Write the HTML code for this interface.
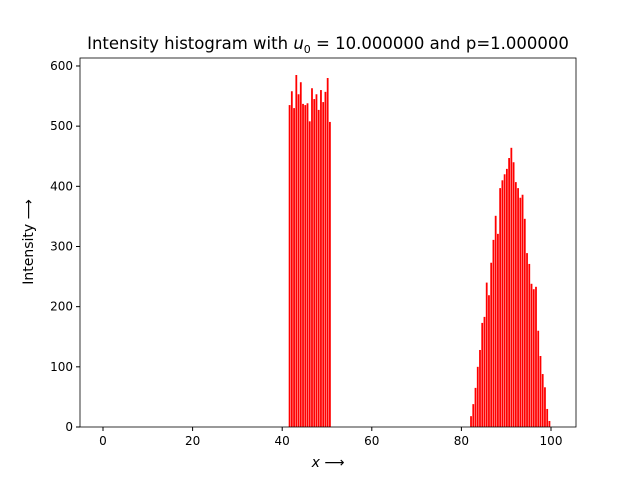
<!DOCTYPE html>
<html><head><meta charset="utf-8"><style>
body{margin:0;background:#fff}
svg text{font-family:"DejaVu Sans","Liberation Sans",sans-serif;fill:#000}
</style></head><body>
<svg id="chart" width="640" height="480">
<rect width="640" height="480" fill="#fff"/>
<g id="bars"></g>
<g id="axes"></g>
<text x="328" y="49" text-anchor="middle" font-size="16.5">Intensity histogram with <tspan font-style="italic">u</tspan><tspan font-size="11" dy="4">0</tspan><tspan dy="-4"> = 10.000000 and p=1.000000</tspan></text>
<text x="328" y="467" text-anchor="middle" font-size="14"><tspan font-style="italic">x</tspan> ⟶</text>
<text transform="translate(33,242) rotate(-90)" text-anchor="middle" font-size="14">Intensity ⟶</text>
</svg>
<script>
const leftXStart = 41.5;
const leftValues = [535,558,530,585,553,573,537,535,538,508,563,545,553,527,560,540,557,580,507];
const rightXStart = 82;
const rightValues = [18,38,65,100,128,173,183,240,219,273,311,351,321,397,410,420,429,447,464,440,407,397,381,386,346,289,271,238,229,233,160,118,88,66,30,10];
const xTicks = [0,20,40,60,80,100];
const yTicks = [0,100,200,300,400,500,600];
const L=80,R=576,T=58,B=427;
const xs=v=>103+v*4.48, ys=v=>B-v*0.6017;
const NS="http://www.w3.org/2000/svg";
const bars=document.getElementById('bars'), axes=document.getElementById('axes');
function addBars(x0,vals){
  vals.forEach((v,i)=>{
    const x=x0+i*0.5;
    const r=document.createElementNS(NS,'rect');
    r.setAttribute('x',xs(x-0.05));r.setAttribute('width',0.4*4.48);
    r.setAttribute('y',ys(v));r.setAttribute('height',B-ys(v));
    r.setAttribute('fill','#ff0000');
    
    
    bars.appendChild(r);
  });
}
addBars(leftXStart,leftValues);
addBars(rightXStart,rightValues);
const frame=document.createElementNS(NS,'rect');
frame.setAttribute('x',L);frame.setAttribute('y',T);frame.setAttribute('width',R-L);frame.setAttribute('height',B-T);
frame.setAttribute('fill','none');frame.setAttribute('stroke','#000');frame.setAttribute('stroke-width','0.8');


axes.appendChild(frame);
xTicks.forEach(t=>{
  const l=document.createElementNS(NS,'line');
  l.setAttribute('x1',xs(t));l.setAttribute('x2',xs(t));l.setAttribute('y1',B);l.setAttribute('y2',B+4);l.setAttribute('stroke','#000');
  
  
  axes.appendChild(l);
  const tx=document.createElementNS(NS,'text');
  tx.setAttribute('x',xs(t));tx.setAttribute('y',B+18);tx.setAttribute('text-anchor','middle');tx.setAttribute('font-size','12');
  tx.textContent=t;
  
  
  axes.appendChild(tx);
});
yTicks.forEach(t=>{
  const l=document.createElementNS(NS,'line');
  l.setAttribute('x1',L-4);l.setAttribute('x2',L);l.setAttribute('y1',ys(t));l.setAttribute('y2',ys(t));l.setAttribute('stroke','#000');
  
  
  axes.appendChild(l);
  const tx=document.createElementNS(NS,'text');
  tx.setAttribute('x',L-7);tx.setAttribute('y',ys(t)+4);tx.setAttribute('text-anchor','end');tx.setAttribute('font-size','12');
  tx.textContent=t;
  
  
  axes.appendChild(tx);
});
</script>
</body></html>
